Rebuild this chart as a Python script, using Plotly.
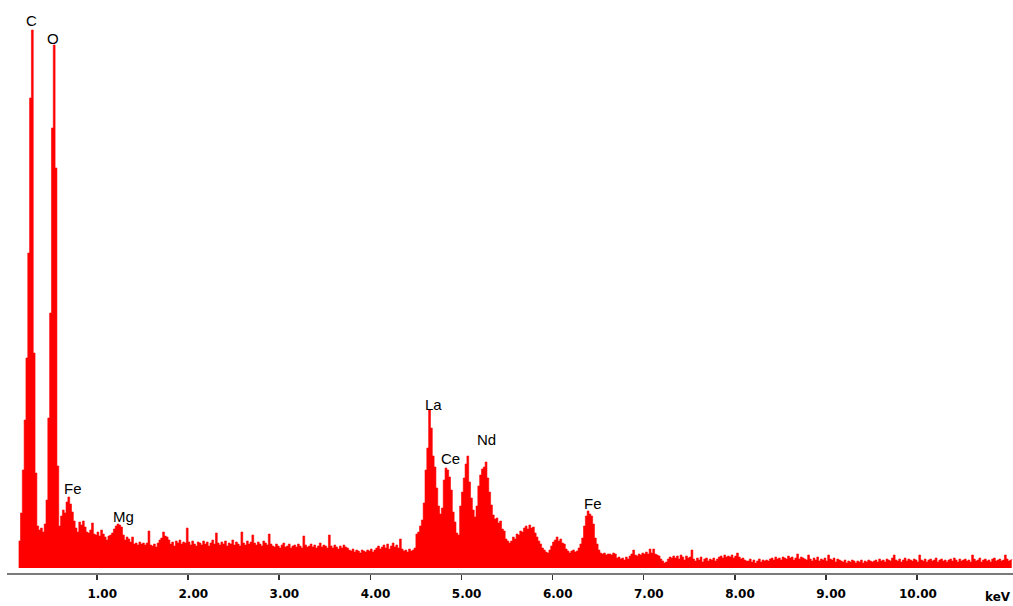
import numpy as np
import plotly.graph_objects as go

# ---- spectrum data (channel counts, 0.02 keV channels starting at 0.14 keV) ----
E_START = 0.14
E_STEP = 0.02

counts_c_o_region = [
    27, 55, 98, 148, 210, 315, 470, 538, 215, 95,
    42, 38, 40, 36, 44, 68, 150, 255, 440, 523,
    400, 102, 42, 52, 58, 55, 66, 71, 64, 56,
    47, 40, 36, 46, 43, 47, 41, 36, 35, 38,
]

counts_background = [
    45, 34, 33, 36, 32, 38, 34, 31, 28, 32,
    33, 35, 39, 42, 44, 43, 41, 33, 28, 31,
    29, 26, 31, 24, 25, 23, 26, 24, 25, 23,
    25, 37, 23, 22, 24, 21, 25, 28, 30, 36,
    32, 31, 28, 24, 26, 22, 27, 25, 28, 24,
    26, 25, 40, 26, 23, 27, 24, 22, 26, 25,
    23, 27, 24, 26, 22, 25, 28, 24, 35, 25,
    23, 26, 24, 27, 22, 25, 24, 28, 23, 26,
    24, 22, 36, 25, 23, 27, 24, 26, 33, 25,
    23, 26, 24, 22, 27, 25, 23, 34, 24, 22,
    21, 24, 22, 20, 23, 25, 21, 22, 24, 20,
    22, 23, 21, 24, 22, 20, 32, 23, 21, 22,
    24, 21, 23, 20, 22, 25, 21, 23, 22, 20,
    33, 22, 20, 23, 21, 19, 22, 20, 23, 21,
    20, 18, 17, 19, 16, 18, 17, 15, 18, 17,
    16, 18, 17, 19, 16, 18, 20, 22, 19, 21,
    23, 20, 24, 19, 22, 25, 21, 23, 20, 29,
    19, 17, 18, 16, 19, 17, 18, 20, 34, 36,
]

counts_rare_earth_fe = [
    42, 48, 65, 98, 120, 158, 140, 112, 101, 80,
    62, 54, 60, 88, 100, 98, 91, 78, 56, 46,
    35, 33, 62, 76, 90, 104, 112, 86, 70, 58,
    51, 62, 82, 93, 99, 101, 106, 90, 76, 63,
    53, 49, 50, 45, 47, 39, 37, 29, 27, 25,
    27, 31, 29, 34, 33, 37, 36, 40, 42, 39,
    43, 40, 41, 35, 31, 27, 24, 20, 18, 16,
    15, 18, 22, 26, 28, 31, 27, 29, 25, 24,
    19, 17, 15, 17, 18, 16, 17, 20, 24, 30,
    42, 52, 57, 54, 52, 44, 30, 24, 18, 15,
    14, 15, 13, 14, 14, 13, 15, 14, 10, 11,
]

counts_tail = [
    9, 10, 8, 11, 9, 12, 14, 18, 13, 12,
    14, 13, 15, 14, 16, 14, 19, 15, 19, 14,
    13, 12, 9, 7, 5, 6, 9, 11, 10, 12,
    10, 12, 9, 13, 11, 8, 12, 10, 11, 18,
    9, 7, 10, 8, 11, 6, 9, 10, 7, 9,
    8, 10, 7, 9, 11, 12, 10, 13, 11, 12,
    11, 13, 10, 12, 15, 11, 9, 10, 8, 7,
    7, 9, 6, 8, 5, 7, 9, 6, 8, 7,
    8, 7, 9, 10, 8, 11, 9, 10, 8, 11,
    10, 9, 12, 10, 11, 8, 10, 14, 9, 11,
    10, 9, 8, 13, 9, 7, 10, 8, 11, 7,
    9, 8, 10, 7, 13, 9, 8, 10, 6, 9,
    8, 7, 6, 8, 5, 7, 6, 8, 7, 5,
    7, 6, 8, 5, 7, 6, 8, 7, 6, 7,
    8, 6, 9, 7, 8, 6, 9, 8, 7, 10,
    13, 8, 7, 9, 6, 8, 10, 7, 9, 8,
    7, 9, 8, 6, 13, 8, 7, 9, 6, 8,
    9, 7, 8, 10, 6, 8, 9, 7, 8, 6,
    8, 9, 7, 10, 8, 6, 9, 7, 8, 9,
    7, 8, 6, 13, 9, 7, 8, 10, 6, 8,
    9, 7, 8, 6, 9, 10, 7, 8, 9, 7,
    8, 13, 9, 7, 8, 9,
]

# ---- peak labels ----
peak_names = ["C", "O", "Fe", "Mg", "La", "Ce", "Nd", "Fe"]
peak_energy = [0.286, 0.52, 0.74, 1.29, 4.69, 4.885, 5.27, 6.44]
peak_label_height = [548, 530, 80, 52, 164, 110, 129, 65]

# ---- axis ticks ----
tick_values = [1, 2, 3, 4, 5, 6, 7, 8, 9, 10]
tick_labels = ["\u20071.00", "\u20072.00", "\u20073.00", "\u20074.00", "\u20075.00",
               "\u20076.00", "\u20077.00", "\u20078.00", "\u20079.00", "10.00"]
axis_unit = "keV"

counts = counts_c_o_region + counts_background + counts_rare_earth_fe + counts_tail
energy = np.round(E_START + E_STEP * np.arange(len(counts)), 3)

fig = go.Figure()
fig.add_trace(go.Scatter(
    x=energy, y=counts, mode="lines",
    line=dict(color="#FF0000", width=0.6, shape="hv"),
    fill="tozeroy", fillcolor="#FF0000",
    hoverinfo="skip", showlegend=False,
))

for name, e, h in zip(peak_names, peak_energy, peak_label_height):
    fig.add_annotation(
        x=e, y=h, xref="x", yref="y", text=name, showarrow=False,
        xanchor="center", yanchor="middle",
        font=dict(family="Liberation Sans, Arial, sans-serif", size=15, color="#000000"),
    )

fig.add_annotation(
    x=1, y=-0.04, xref="paper", yref="paper", text=f"<b>{axis_unit}</b>",
    showarrow=False, xanchor="right", yanchor="middle",
    font=dict(family="DejaVu Sans, sans-serif", size=12, color="#000000"),
)

fig.update_layout(
    width=1013, height=606, autosize=False,
    margin=dict(l=7, r=0, t=0, b=32, pad=0),
    paper_bgcolor="white", plot_bgcolor="white",
    xaxis=dict(
        range=[0.012, 11.054], anchor="free", position=0,
        showgrid=False, zeroline=False,
        showline=True, linecolor="#7a7a7a", linewidth=2,
        ticks="outside", ticklen=5, tickwidth=1.5, tickcolor="#333333",
        tickvals=tick_values, ticktext=tick_labels,
        ticklabelshift=1, ticklabelstandoff=4,
        tickfont=dict(family="DejaVu Sans, sans-serif", size=12, color="#000000", weight="bold"),
    ),
    yaxis=dict(
        range=[0, 568], domain=[6 / 574, 1], visible=False,
        showgrid=False, zeroline=False,
    ),
)

fig.write_html(
    "out.html",
    config={"displayModeBar": False, "staticPlot": True},
    post_script="document.body.style.margin='0px';document.body.style.overflow='hidden';",
)
